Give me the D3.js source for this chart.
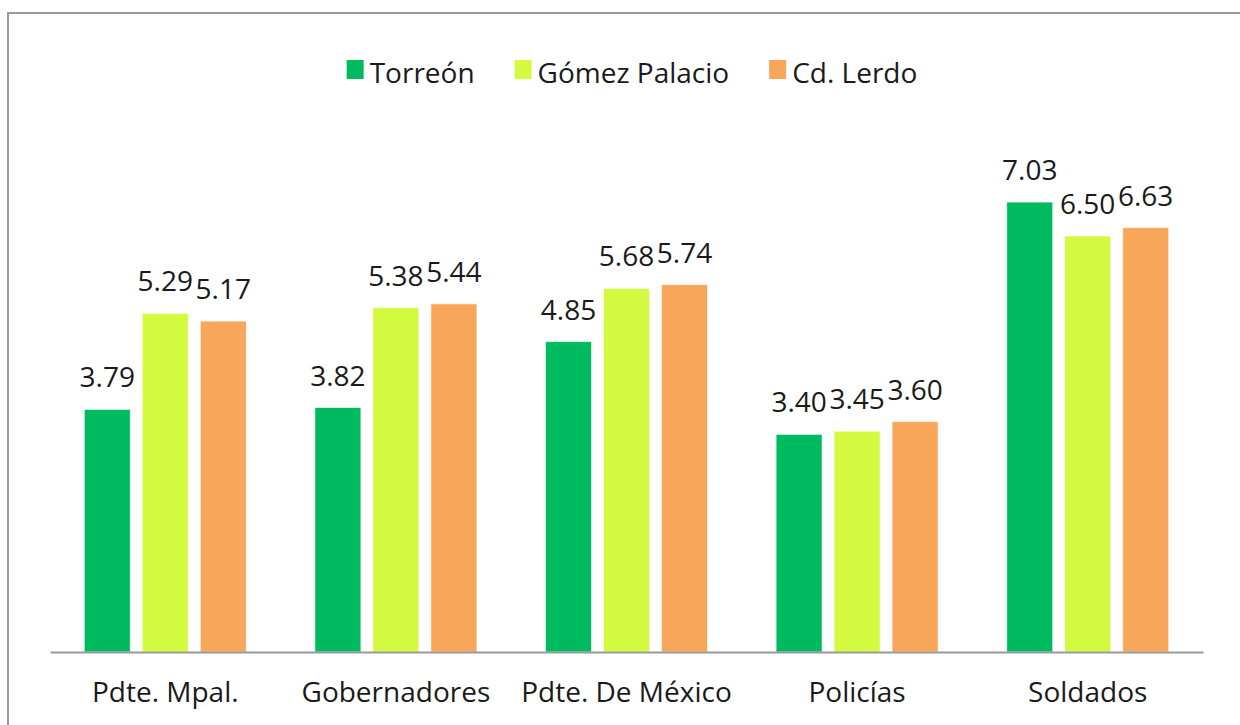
<!DOCTYPE html>
<html><head><meta charset="utf-8">
<script src="https://cdn.jsdelivr.net/npm/d3@7"></script>
<style>body{margin:0;background:#fff}svg{display:block}text{font-family:"Open Sans",sans-serif;fill:#1a1a1a}</style>
</head><body>
<svg id="c" width="1240" height="725"></svg>
<script>
const categories = ["Pdte. Mpal.", "Gobernadores", "Pdte. De México", "Policías", "Soldados"];
const seriesNames = ["Torreón", "Gómez Palacio", "Cd. Lerdo"];
const torreon = [3.79, 3.82, 4.85, 3.40, 7.03];
const gomezPalacio = [5.29, 5.38, 5.68, 3.45, 6.50];
const cdLerdo = [5.17, 5.44, 5.74, 3.60, 6.63];
const colors = ["#00BA5F", "#D4FA40", "#F8A659"];
const seriesValues = [torreon, gomezPalacio, cdLerdo];

const svg = d3.select("#c");
// frame
svg.append("rect").attr("x", 8).attr("y", 13).attr("width", 1250).attr("height", 740)
  .attr("fill", "none").attr("stroke", "#9a9a9a").attr("stroke-width", 2);

const x0 = d3.scaleBand().domain(categories).range([50, 1203]).paddingInner(0).paddingOuter(0);
const x1 = d3.scaleBand().domain(seriesNames).range([0, 162]).paddingInner(12/58).paddingOuter(0);
const y = d3.scaleLinear().domain([0, 8]).range([652, 140]);

const groups = svg.append("g").selectAll("g").data(categories).join("g")
  .attr("transform", c => `translate(${x0(c) + (x0.bandwidth() - 162) / 2},0)`);

seriesNames.forEach((s, si) => {
  groups.append("rect")
    .attr("x", x1(s)).attr("width", x1.bandwidth())
    .attr("y", (c, ci) => y(seriesValues[si][ci]))
    .attr("height", (c, ci) => y(0) - y(seriesValues[si][ci]))
    .attr("fill", colors[si]).attr("stroke", "rgba(255,255,255,0.6)").attr("stroke-width", 1);
  groups.append("text")
    .attr("x", x1(s) + x1.bandwidth() / 2)
    .attr("y", (c, ci) => y(seriesValues[si][ci]) - 22)
    .attr("text-anchor", "middle").attr("font-size", 28)
    .text((c, ci) => seriesValues[si][ci].toFixed(2));
});

// baseline axis
const ax = svg.append("g").attr("transform", "translate(0,652)")
  .call(d3.axisBottom(x0).tickSize(0).tickPadding(0));
ax.select(".domain").attr("stroke", "#999").attr("stroke-width", 2);
ax.selectAll("text").attr("font-size", 28).attr("dy", 0).attr("y", 50)
  .style("font-family", '"Open Sans",sans-serif').attr("fill", "#1a1a1a");

// legend
const leg = svg.append("g");
const items = leg.selectAll("g").data(seriesNames).join("g");
items.append("rect").attr("width", 17).attr("height", 19).attr("y", 60)
  .attr("fill", (d, i) => colors[i]);
items.append("text").attr("x", 23).attr("y", 83).attr("font-size", 28).text(d => d);
let xpos = 0;
const pos = [];
items.each(function() {
  const w = this.querySelector("text").getComputedTextLength();
  pos.push(xpos);
  xpos += 23 + w + 40;
});
const total = xpos - 40;
const start = 632 - total / 2;
items.attr("transform", (d, i) => `translate(${start + pos[i]},0)`);
</script>
</body></html>
